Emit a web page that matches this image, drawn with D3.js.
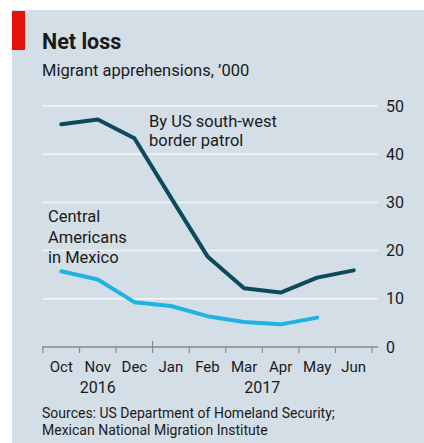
<!DOCTYPE html>
<html><head><meta charset="utf-8">
<script src="https://cdn.jsdelivr.net/npm/d3@7"></script>
<style>body{margin:0;background:#fff;} text{font-family:"Roboto","Noto Sans",sans-serif;}</style>
</head><body>
<svg id="c" width="424" height="443"></svg>
<script>
const months = ["Oct","Nov","Dec","Jan","Feb","Mar","Apr","May","Jun"];
const borderPatrol = [46.2, 47.2, 43.3, 31.0, 18.8, 12.2, 11.3, 14.4, 15.9];
const centralAmericans = [15.7, 14.0, 9.3, 8.5, 6.4, 5.2, 4.7, 6.1];
const yTicks = [0, 10, 20, 30, 40, 50];
const years = [{label:"2016", at:1}, {label:"2017", at:5.5}];

const svg = d3.select("#c");
svg.append("rect").attr("x",12).attr("y",10).attr("width",412).attr("height",433).attr("fill","#d3dee7");
svg.append("rect").attr("x",12).attr("y",11).attr("width",13).attr("height",39).attr("fill","#e3120b");
svg.append("text").attr("x",42).attr("y",49).attr("font-size",21.5).attr("font-weight",700).attr("fill","#1a1a1a").text("Net loss");
svg.append("text").attr("x",42).attr("y",76).attr("font-size",16.5).attr("fill","#1a1a1a").text("Migrant apprehensions, ’000");

const x = d3.scaleBand().domain(months).range([43, 372]).padding(0);
const xc = m => x(m) + x.bandwidth()/2;
const y = d3.scaleLinear().domain([0,50]).range([347,106]);

// gridlines
svg.append("g").selectAll("line").data(yTicks.filter(d=>d>0)).join("line")
  .attr("x1",42).attr("x2",378).attr("y1",d=>y(d)).attr("y2",d=>y(d))
  .attr("stroke","#f4f7f9").attr("stroke-width",1.5);

// y axis labels
const ya = svg.append("g").attr("transform","translate(378,0)")
  .call(d3.axisRight(y).tickValues(yTicks).tickSize(0).tickPadding(8));
ya.select(".domain").remove();
ya.selectAll("text").attr("font-size",16).attr("fill","#1a1a1a").attr("font-family","Roboto, sans-serif");

// x axis
svg.append("line").attr("x1",42).attr("x2",378).attr("y1",y(0)).attr("y2",y(0)).attr("stroke","#858b91").attr("stroke-width",1.3);
const tickPos = months.map(m=>x(m)).concat([x.range()[1]]);
svg.append("g").selectAll("line").data(tickPos).join("line")
  .attr("x1",d=>d).attr("x2",d=>d)
  .attr("y1",(d,i)=> i===3 ? y(0)-6 : y(0))
  .attr("y2",(d,i)=> i===3 ? y(0)+6 : y(0)+6)
  .attr("stroke","#858b91").attr("stroke-width",1.2);
svg.append("g").selectAll("text").data(months).join("text")
  .attr("x",d=>xc(d)).attr("y",372).attr("text-anchor","middle").attr("font-size",15).attr("fill","#1a1a1a").text(d=>d);
svg.append("g").selectAll("text").data(years).join("text")
  .attr("x",d=>xc(months[Math.floor(d.at)]) + (d.at%1)*x.bandwidth()).attr("y",393).attr("text-anchor","middle").attr("font-size",16).attr("fill","#1a1a1a").text(d=>d.label);

// lines
const line = d3.line().x((d,i)=>xc(months[i])).y(d=>y(d));
svg.append("path").datum(centralAmericans).attr("d",line).attr("fill","none").attr("stroke","#1db4e3").attr("stroke-width",4).attr("stroke-linejoin","round").attr("stroke-linecap","round");
svg.append("path").datum(borderPatrol).attr("d",line).attr("fill","none").attr("stroke","#0c4b5c").attr("stroke-width",4).attr("stroke-linejoin","round").attr("stroke-linecap","round");

// annotations
const ann = svg.append("text").attr("font-size",16.5).attr("fill","#1a1a1a");
ann.append("tspan").attr("x",149).attr("y",127).text("By US south-west");
ann.append("tspan").attr("x",149).attr("y",146).text("border patrol");
const ann2 = svg.append("text").attr("font-size",16.5).attr("fill","#1a1a1a");
["Central","Americans","in Mexico"].forEach((t,i)=>ann2.append("tspan").attr("x",48).attr("y",222+i*20.5).text(t));

// source
const src = svg.append("text").attr("font-size",14).attr("fill","#1a1a1a");
src.append("tspan").attr("x",42).attr("y",418).text("Sources: US Department of Homeland Security;");
src.append("tspan").attr("x",42).attr("y",435).text("Mexican National Migration Institute");
</script>
</body></html>
